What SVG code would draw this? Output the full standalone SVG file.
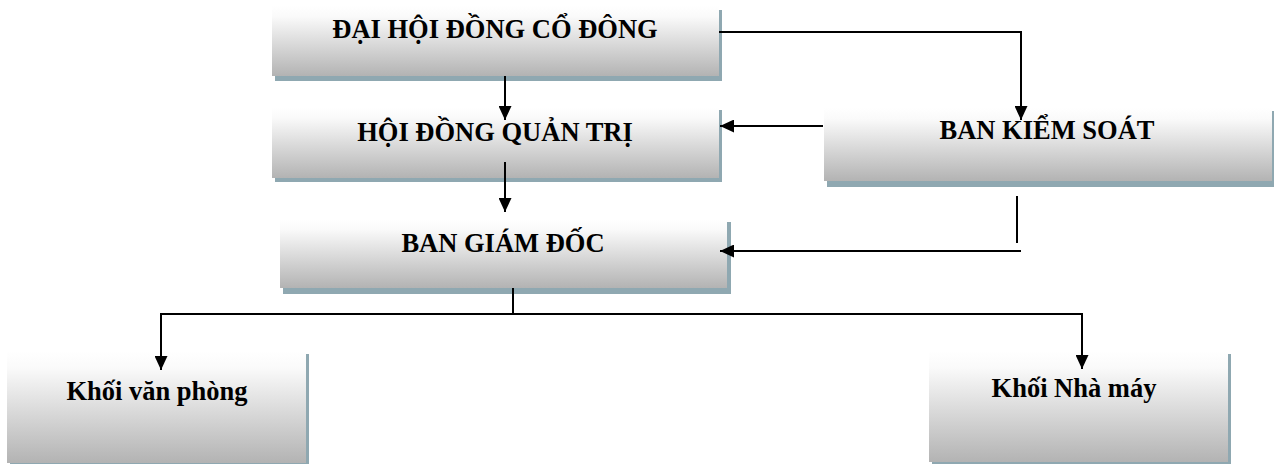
<svg xmlns="http://www.w3.org/2000/svg" width="1281" height="464" viewBox="0 0 1281 464">
<defs>
<linearGradient id="g" x1="0" y1="0" x2="0" y2="1">
<stop offset="0" stop-color="#ffffff"/>
<stop offset="0.15" stop-color="#fafafa"/>
<stop offset="1" stop-color="#b3b3b3"/>
</linearGradient>
<marker id="ah" viewBox="0 0 14 13" refX="14" refY="6.5" markerWidth="14" markerHeight="13" markerUnits="userSpaceOnUse" orient="auto">
<path d="M0,0 L14,6.5 L0,13 Z" fill="#000"/>
</marker>
<style>
.sh{fill:#8fa8b1}
.bx{fill:url(#g)}
.t{font-family:"Liberation Serif","Times New Roman",serif;font-weight:bold;font-size:26.5px;fill:#000;text-anchor:middle}
.c{fill:none;stroke:#000;stroke-width:2}
.a{marker-end:url(#ah)}
</style>
</defs>
<rect width="1281" height="464" fill="#fff"/>
<g id="n1">
<rect class="sh" x="275" y="10" width="447" height="71"/>
<rect class="bx" x="272" y="6" width="447" height="70"/>
<text class="t" x="495" y="38">ĐẠI HỘI ĐỒNG CỔ ĐÔNG</text>
</g>
<g id="n2">
<rect class="sh" x="275" y="110" width="447" height="72"/>
<rect class="bx" x="272" y="107" width="447" height="71"/>
<text class="t" x="495" y="141">HỘI ĐỒNG QUẢN TRỊ</text>
</g>
<g id="n3">
<rect class="sh" x="283" y="222" width="448" height="72"/>
<rect class="bx" x="280" y="219" width="447" height="69"/>
<text class="t" x="503" y="252">BAN GIÁM ĐỐC</text>
</g>
<g id="n4">
<rect class="sh" x="827" y="111" width="447" height="76"/>
<rect class="bx" x="824" y="108" width="448" height="73"/>
<text class="t" x="1047" y="139">BAN KIỂM SOÁT</text>
</g>
<g id="n5">
<rect class="sh" x="10" y="354" width="299" height="112"/>
<rect class="bx" x="7" y="351" width="299" height="112"/>
<text class="t" x="157" y="400">Khối văn phòng</text>
</g>
<g id="n6">
<rect class="sh" x="932" y="354" width="299" height="110"/>
<rect class="bx" x="929" y="351" width="299" height="111"/>
<text class="t" x="1074" y="397">Khối Nhà máy</text>
</g>
<g id="connectors">
<path class="c a" d="M505,76 V120"/>
<path class="c a" d="M505,162 V212"/>
<path class="c a" d="M719,32 H1021 V120"/>
<path class="c a" d="M823,126 H720"/>
<path class="c" d="M1017,196 V243"/>
<path class="c a" d="M1021,251 H720"/>
<path class="c" d="M513,288 V314"/>
<path class="c" d="M160,314 H1083"/>
<path class="c a" d="M161,313 V370"/>
<path class="c a" d="M1082,313 V369"/>
</g>
</svg>
